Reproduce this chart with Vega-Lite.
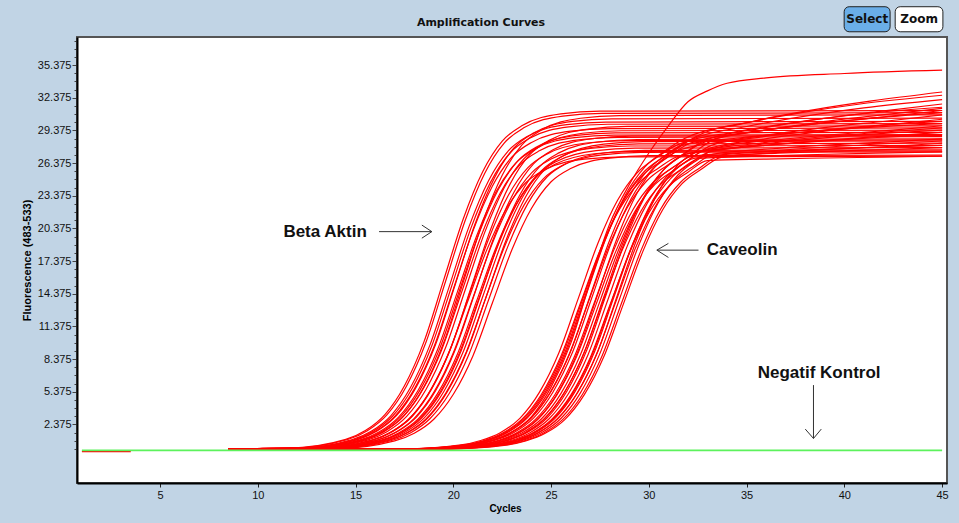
{
"$schema": "https://vega.github.io/schema/vega-lite/v6.json",
"width": 870,
"height": 446,
"autosize": "none",
"padding": {"left": 77, "top": 37, "right": 12, "bottom": 40},
"background": "#C1D4E5",
"config": {"view": {"fill": "#ffffff", "stroke": "#555555", "strokeWidth": 2}},
"title": {"text": "Amplification Curves", "font": "DejaVu Sans", "fontSize": 11, "fontWeight": "bold", "color": "#111111", "anchor": "middle", "frame": "group", "dx": -31, "offset": -33, "baseline": "bottom"},
"datasets": {
"curves": [
{"s":"r0","x":1,"y":-0.12},{"s":"r0","x":3.5,"y":-0.12},
{"s":"b1","x":8.5,"y":0.15},{"s":"b1","x":11.5,"y":0.19},{"s":"b1","x":14.5,"y":1.0},{"s":"b1","x":15.5,"y":1.81},{"s":"b1","x":16.5,"y":3.28},{"s":"b1","x":17.5,"y":5.93},{"s":"b1","x":18.5,"y":9.98},{"s":"b1","x":19.5,"y":15.6},{"s":"b1","x":20.5,"y":21.22},{"s":"b1","x":21.5,"y":25.58},{"s":"b1","x":22.5,"y":28.39},{"s":"b1","x":23.5,"y":29.8},{"s":"b1","x":25.5,"y":30.89},{"s":"b1","x":27.5,"y":31.14},{"s":"b1","x":45,"y":31.2},
{"s":"b2","x":8.5,"y":0.15},{"s":"b2","x":11.6,"y":0.19},{"s":"b2","x":14.6,"y":0.99},{"s":"b2","x":15.6,"y":1.8},{"s":"b2","x":16.6,"y":3.26},{"s":"b2","x":17.6,"y":5.89},{"s":"b2","x":18.6,"y":9.92},{"s":"b2","x":19.6,"y":15.5},{"s":"b2","x":20.6,"y":21.08},{"s":"b2","x":21.6,"y":25.42},{"s":"b2","x":22.6,"y":28.21},{"s":"b2","x":23.6,"y":29.61},{"s":"b2","x":25.6,"y":30.69},{"s":"b2","x":27.6,"y":30.94},{"s":"b2","x":45,"y":31.0},
{"s":"b3","x":8.5,"y":0.15},{"s":"b3","x":11.8,"y":0.18},{"s":"b3","x":14.8,"y":0.97},{"s":"b3","x":15.8,"y":1.75},{"s":"b3","x":16.8,"y":3.17},{"s":"b3","x":17.8,"y":5.74},{"s":"b3","x":18.8,"y":9.66},{"s":"b3","x":19.8,"y":15.1},{"s":"b3","x":20.8,"y":20.54},{"s":"b3","x":21.8,"y":24.76},{"s":"b3","x":22.8,"y":27.48},{"s":"b3","x":23.8,"y":28.84},{"s":"b3","x":25.8,"y":29.9},{"s":"b3","x":27.8,"y":30.14},{"s":"b3","x":45,"y":30.2},
{"s":"b4","x":8.5,"y":0.15},{"s":"b4","x":12,"y":0.18},{"s":"b4","x":15,"y":0.95},{"s":"b4","x":16,"y":1.72},{"s":"b4","x":17,"y":3.11},{"s":"b4","x":18,"y":5.62},{"s":"b4","x":19,"y":9.47},{"s":"b4","x":20,"y":14.8},{"s":"b4","x":21,"y":20.13},{"s":"b4","x":22,"y":24.27},{"s":"b4","x":23,"y":26.94},{"s":"b4","x":24,"y":28.27},{"s":"b4","x":26,"y":29.3},{"s":"b4","x":28,"y":29.54},{"s":"b4","x":45,"y":29.6},
{"s":"b5","x":8.5,"y":0.15},{"s":"b5","x":12.1,"y":0.18},{"s":"b5","x":15.1,"y":0.98},{"s":"b5","x":16.1,"y":1.77},{"s":"b5","x":17.1,"y":3.2},{"s":"b5","x":18.1,"y":5.8},{"s":"b5","x":19.1,"y":9.76},{"s":"b5","x":20.1,"y":15.25},{"s":"b5","x":21.1,"y":20.74},{"s":"b5","x":22.1,"y":25.01},{"s":"b5","x":23.1,"y":27.76},{"s":"b5","x":24.1,"y":29.13},{"s":"b5","x":26.1,"y":30.2},{"s":"b5","x":28.1,"y":30.44},{"s":"b5","x":45,"y":30.5},
{"s":"b6","x":8.5,"y":0.15},{"s":"b6","x":12.3,"y":0.18},{"s":"b6","x":15.3,"y":0.93},{"s":"b6","x":16.3,"y":1.69},{"s":"b6","x":17.3,"y":3.07},{"s":"b6","x":18.3,"y":5.55},{"s":"b6","x":19.3,"y":9.34},{"s":"b6","x":20.3,"y":14.6},{"s":"b6","x":21.3,"y":19.86},{"s":"b6","x":22.3,"y":23.94},{"s":"b6","x":23.3,"y":26.57},{"s":"b6","x":24.3,"y":27.89},{"s":"b6","x":26.3,"y":28.91},{"s":"b6","x":28.3,"y":29.14},{"s":"b6","x":45,"y":29.2},
{"s":"b7","x":8.5,"y":0.15},{"s":"b7","x":12.4,"y":0.17},{"s":"b7","x":15.4,"y":0.92},{"s":"b7","x":16.4,"y":1.67},{"s":"b7","x":17.4,"y":3.02},{"s":"b7","x":18.4,"y":5.47},{"s":"b7","x":19.4,"y":9.22},{"s":"b7","x":20.4,"y":14.4},{"s":"b7","x":21.4,"y":19.58},{"s":"b7","x":22.4,"y":23.62},{"s":"b7","x":23.4,"y":26.21},{"s":"b7","x":24.4,"y":27.5},{"s":"b7","x":26.4,"y":28.51},{"s":"b7","x":28.4,"y":28.74},{"s":"b7","x":45,"y":28.8},
{"s":"b8","x":8.5,"y":0.15},{"s":"b8","x":12.6,"y":0.18},{"s":"b8","x":15.6,"y":0.94},{"s":"b8","x":16.6,"y":1.71},{"s":"b8","x":17.6,"y":3.09},{"s":"b8","x":18.6,"y":5.59},{"s":"b8","x":19.6,"y":9.41},{"s":"b8","x":20.6,"y":14.7},{"s":"b8","x":21.6,"y":19.99},{"s":"b8","x":22.6,"y":24.11},{"s":"b8","x":23.6,"y":26.75},{"s":"b8","x":24.6,"y":28.08},{"s":"b8","x":26.6,"y":29.11},{"s":"b8","x":28.6,"y":29.34},{"s":"b8","x":45,"y":29.4},
{"s":"b9","x":8.5,"y":0.15},{"s":"b9","x":12.8,"y":0.17},{"s":"b9","x":15.8,"y":0.91},{"s":"b9","x":16.8,"y":1.65},{"s":"b9","x":17.8,"y":2.99},{"s":"b9","x":18.8,"y":5.42},{"s":"b9","x":19.8,"y":9.12},{"s":"b9","x":20.8,"y":14.25},{"s":"b9","x":21.8,"y":19.38},{"s":"b9","x":22.8,"y":23.37},{"s":"b9","x":23.8,"y":25.94},{"s":"b9","x":24.8,"y":27.22},{"s":"b9","x":26.8,"y":28.22},{"s":"b9","x":28.8,"y":28.44},{"s":"b9","x":45,"y":28.5},
{"s":"b10","x":8.5,"y":0.15},{"s":"b10","x":13,"y":0.17},{"s":"b10","x":16,"y":0.9},{"s":"b10","x":17,"y":1.62},{"s":"b10","x":18,"y":2.94},{"s":"b10","x":19,"y":5.32},{"s":"b10","x":20,"y":8.96},{"s":"b10","x":21,"y":14.0},{"s":"b10","x":22,"y":19.04},{"s":"b10","x":23,"y":22.96},{"s":"b10","x":24,"y":25.48},{"s":"b10","x":25,"y":26.74},{"s":"b10","x":27,"y":27.72},{"s":"b10","x":29,"y":27.94},{"s":"b10","x":45,"y":28.0},
{"s":"b11","x":8.5,"y":0.15},{"s":"b11","x":13.1,"y":0.17},{"s":"b11","x":16.1,"y":0.92},{"s":"b11","x":17.1,"y":1.68},{"s":"b11","x":18.1,"y":3.03},{"s":"b11","x":19.1,"y":5.49},{"s":"b11","x":20.1,"y":9.25},{"s":"b11","x":21.1,"y":14.45},{"s":"b11","x":22.1,"y":19.65},{"s":"b11","x":23.1,"y":23.7},{"s":"b11","x":24.1,"y":26.3},{"s":"b11","x":25.1,"y":27.6},{"s":"b11","x":27.1,"y":28.61},{"s":"b11","x":29.1,"y":28.84},{"s":"b11","x":45,"y":28.9},
{"s":"b12","x":8.5,"y":0.15},{"s":"b12","x":13.3,"y":0.17},{"s":"b12","x":16.3,"y":0.89},{"s":"b12","x":17.3,"y":1.61},{"s":"b12","x":18.3,"y":2.92},{"s":"b12","x":19.3,"y":5.28},{"s":"b12","x":20.3,"y":8.9},{"s":"b12","x":21.3,"y":13.9},{"s":"b12","x":22.3,"y":18.9},{"s":"b12","x":23.3,"y":22.8},{"s":"b12","x":24.3,"y":25.3},{"s":"b12","x":25.3,"y":26.55},{"s":"b12","x":27.3,"y":27.52},{"s":"b12","x":29.3,"y":27.74},{"s":"b12","x":45,"y":27.8},
{"s":"b13","x":8.5,"y":0.15},{"s":"b13","x":13.5,"y":0.17},{"s":"b13","x":16.5,"y":0.9},{"s":"b13","x":17.5,"y":1.64},{"s":"b13","x":18.5,"y":2.96},{"s":"b13","x":19.5,"y":5.36},{"s":"b13","x":20.5,"y":9.02},{"s":"b13","x":21.5,"y":14.1},{"s":"b13","x":22.5,"y":19.18},{"s":"b13","x":23.5,"y":23.12},{"s":"b13","x":24.5,"y":25.66},{"s":"b13","x":25.5,"y":26.93},{"s":"b13","x":27.5,"y":27.92},{"s":"b13","x":29.5,"y":28.14},{"s":"b13","x":45,"y":28.2},
{"s":"b14","x":8.5,"y":0.15},{"s":"b14","x":13.6,"y":0.16},{"s":"b14","x":16.6,"y":0.88},{"s":"b14","x":17.6,"y":1.59},{"s":"b14","x":18.6,"y":2.88},{"s":"b14","x":19.6,"y":5.21},{"s":"b14","x":20.6,"y":8.77},{"s":"b14","x":21.6,"y":13.7},{"s":"b14","x":22.6,"y":18.63},{"s":"b14","x":23.6,"y":22.47},{"s":"b14","x":24.6,"y":24.93},{"s":"b14","x":25.6,"y":26.17},{"s":"b14","x":27.6,"y":27.13},{"s":"b14","x":29.6,"y":27.35},{"s":"b14","x":45,"y":27.4},
{"s":"b15","x":8.5,"y":0.15},{"s":"b15","x":13.8,"y":0.17},{"s":"b15","x":16.8,"y":0.88},{"s":"b15","x":17.8,"y":1.6},{"s":"b15","x":18.8,"y":2.9},{"s":"b15","x":19.8,"y":5.24},{"s":"b15","x":20.8,"y":8.83},{"s":"b15","x":21.8,"y":13.8},{"s":"b15","x":22.8,"y":18.77},{"s":"b15","x":23.8,"y":22.63},{"s":"b15","x":24.8,"y":25.12},{"s":"b15","x":25.8,"y":26.36},{"s":"b15","x":27.8,"y":27.32},{"s":"b15","x":29.8,"y":27.54},{"s":"b15","x":45,"y":27.6},
{"s":"b16","x":8.5,"y":0.15},{"s":"b16","x":14,"y":0.16},{"s":"b16","x":17,"y":0.87},{"s":"b16","x":18,"y":1.57},{"s":"b16","x":19,"y":2.85},{"s":"b16","x":20,"y":5.15},{"s":"b16","x":21,"y":8.67},{"s":"b16","x":22,"y":13.55},{"s":"b16","x":23,"y":18.43},{"s":"b16","x":24,"y":22.22},{"s":"b16","x":25,"y":24.66},{"s":"b16","x":26,"y":25.88},{"s":"b16","x":28,"y":26.83},{"s":"b16","x":30,"y":27.05},{"s":"b16","x":45,"y":27.1},
{"s":"b17","x":8.5,"y":0.15},{"s":"b17","x":11.9,"y":0.18},{"s":"b17","x":14.9,"y":0.96},{"s":"b17","x":15.9,"y":1.74},{"s":"b17","x":16.9,"y":3.15},{"s":"b17","x":17.9,"y":5.7},{"s":"b17","x":18.9,"y":9.6},{"s":"b17","x":19.9,"y":15.0},{"s":"b17","x":20.9,"y":20.4},{"s":"b17","x":21.9,"y":24.6},{"s":"b17","x":22.9,"y":27.3},{"s":"b17","x":23.9,"y":28.65},{"s":"b17","x":25.9,"y":29.7},{"s":"b17","x":27.9,"y":29.94},{"s":"b17","x":45,"y":30.0},
{"s":"b18","x":8.5,"y":0.15},{"s":"b18","x":12.2,"y":0.17},{"s":"b18","x":15.2,"y":0.93},{"s":"b18","x":16.2,"y":1.68},{"s":"b18","x":17.2,"y":3.05},{"s":"b18","x":18.2,"y":5.51},{"s":"b18","x":19.2,"y":9.28},{"s":"b18","x":20.2,"y":14.5},{"s":"b18","x":21.2,"y":19.72},{"s":"b18","x":22.2,"y":23.78},{"s":"b18","x":23.2,"y":26.39},{"s":"b18","x":24.2,"y":27.7},{"s":"b18","x":26.2,"y":28.71},{"s":"b18","x":28.2,"y":28.94},{"s":"b18","x":45,"y":29.0},
{"s":"b19","x":8.5,"y":0.15},{"s":"b19","x":12.5,"y":0.18},{"s":"b19","x":15.5,"y":0.99},{"s":"b19","x":16.5,"y":1.79},{"s":"b19","x":17.5,"y":3.23},{"s":"b19","x":18.5,"y":5.85},{"s":"b19","x":19.5,"y":9.86},{"s":"b19","x":20.5,"y":15.4},{"s":"b19","x":21.5,"y":20.94},{"s":"b19","x":22.5,"y":25.26},{"s":"b19","x":23.5,"y":28.03},{"s":"b19","x":24.5,"y":29.41},{"s":"b19","x":26.5,"y":30.49},{"s":"b19","x":28.5,"y":30.74},{"s":"b19","x":45,"y":30.8},
{"s":"b20","x":8.5,"y":0.15},{"s":"b20","x":12.7,"y":0.16},{"s":"b20","x":15.7,"y":0.86},{"s":"b20","x":16.7,"y":1.57},{"s":"b20","x":17.7,"y":2.84},{"s":"b20","x":18.7,"y":5.13},{"s":"b20","x":19.7,"y":8.64},{"s":"b20","x":20.7,"y":13.5},{"s":"b20","x":21.7,"y":18.36},{"s":"b20","x":22.7,"y":22.14},{"s":"b20","x":23.7,"y":24.57},{"s":"b20","x":24.7,"y":25.79},{"s":"b20","x":26.7,"y":26.73},{"s":"b20","x":28.7,"y":26.95},{"s":"b20","x":45,"y":27.0},
{"s":"b21","x":8.5,"y":0.15},{"s":"b21","x":12.9,"y":0.18},{"s":"b21","x":15.9,"y":0.95},{"s":"b21","x":16.9,"y":1.73},{"s":"b21","x":17.9,"y":3.13},{"s":"b21","x":18.9,"y":5.66},{"s":"b21","x":19.9,"y":9.54},{"s":"b21","x":20.9,"y":14.9},{"s":"b21","x":21.9,"y":20.26},{"s":"b21","x":22.9,"y":24.44},{"s":"b21","x":23.9,"y":27.12},{"s":"b21","x":24.9,"y":28.46},{"s":"b21","x":26.9,"y":29.5},{"s":"b21","x":28.9,"y":29.74},{"s":"b21","x":45,"y":29.8},
{"s":"b22","x":8.5,"y":0.15},{"s":"b22","x":13.2,"y":0.17},{"s":"b22","x":16.2,"y":0.88},{"s":"b22","x":17.2,"y":1.6},{"s":"b22","x":18.2,"y":2.89},{"s":"b22","x":19.2,"y":5.23},{"s":"b22","x":20.2,"y":8.8},{"s":"b22","x":21.2,"y":13.75},{"s":"b22","x":22.2,"y":18.7},{"s":"b22","x":23.2,"y":22.55},{"s":"b22","x":24.2,"y":25.03},{"s":"b22","x":25.2,"y":26.26},{"s":"b22","x":27.2,"y":27.23},{"s":"b22","x":29.2,"y":27.45},{"s":"b22","x":45,"y":27.5},
{"s":"b23","x":8.5,"y":0.15},{"s":"b23","x":13.4,"y":0.17},{"s":"b23","x":16.4,"y":0.92},{"s":"b23","x":17.4,"y":1.66},{"s":"b23","x":18.4,"y":3.0},{"s":"b23","x":19.4,"y":5.43},{"s":"b23","x":20.4,"y":9.15},{"s":"b23","x":21.4,"y":14.3},{"s":"b23","x":22.4,"y":19.45},{"s":"b23","x":23.4,"y":23.45},{"s":"b23","x":24.4,"y":26.03},{"s":"b23","x":25.4,"y":27.31},{"s":"b23","x":27.4,"y":28.31},{"s":"b23","x":29.4,"y":28.54},{"s":"b23","x":45,"y":28.6},
{"s":"b24","x":8.5,"y":0.15},{"s":"b24","x":13.7,"y":0.17},{"s":"b24","x":16.7,"y":0.91},{"s":"b24","x":17.7,"y":1.65},{"s":"b24","x":18.7,"y":2.98},{"s":"b24","x":19.7,"y":5.4},{"s":"b24","x":20.7,"y":9.09},{"s":"b24","x":21.7,"y":14.2},{"s":"b24","x":22.7,"y":19.31},{"s":"b24","x":23.7,"y":23.29},{"s":"b24","x":24.7,"y":25.84},{"s":"b24","x":25.7,"y":27.12},{"s":"b24","x":27.7,"y":28.12},{"s":"b24","x":29.7,"y":28.34},{"s":"b24","x":45,"y":28.4},
{"s":"v1","x":8.5,"y":0.12},{"s":"v1","x":17.4,"y":0.14},{"s":"v1","x":20.4,"y":0.5},{"s":"v1","x":21.4,"y":0.9},{"s":"v1","x":22.4,"y":1.62},{"s":"v1","x":23.4,"y":2.94},{"s":"v1","x":24.4,"y":5.32},{"s":"v1","x":25.4,"y":8.96},{"s":"v1","x":26.4,"y":14.0},{"s":"v1","x":27.4,"y":19.04},{"s":"v1","x":28.4,"y":22.96},{"s":"v1","x":29.4,"y":25.48},{"s":"v1","x":30.4,"y":26.88},{"s":"v1","x":31.4,"y":28.0},{"s":"v1","x":34.4,"y":29.23},{"s":"v1","x":37.4,"y":30.1},{"s":"v1","x":40.4,"y":30.8},{"s":"v1","x":45,"y":31.5},
{"s":"v2","x":8.5,"y":0.12},{"s":"v2","x":17.6,"y":0.14},{"s":"v2","x":20.6,"y":0.5},{"s":"v2","x":21.6,"y":0.88},{"s":"v2","x":22.6,"y":1.6},{"s":"v2","x":23.6,"y":2.9},{"s":"v2","x":24.6,"y":5.24},{"s":"v2","x":25.6,"y":8.83},{"s":"v2","x":26.6,"y":13.8},{"s":"v2","x":27.6,"y":18.77},{"s":"v2","x":28.6,"y":22.63},{"s":"v2","x":29.6,"y":25.12},{"s":"v2","x":30.6,"y":26.5},{"s":"v2","x":31.6,"y":27.6},{"s":"v2","x":34.6,"y":28.51},{"s":"v2","x":37.6,"y":29.16},{"s":"v2","x":40.6,"y":29.68},{"s":"v2","x":45,"y":30.2},
{"s":"v3","x":8.5,"y":0.12},{"s":"v3","x":17.8,"y":0.14},{"s":"v3","x":20.8,"y":0.51},{"s":"v3","x":21.8,"y":0.92},{"s":"v3","x":22.8,"y":1.66},{"s":"v3","x":23.8,"y":3.0},{"s":"v3","x":24.8,"y":5.43},{"s":"v3","x":25.8,"y":9.15},{"s":"v3","x":26.8,"y":14.3},{"s":"v3","x":27.8,"y":19.45},{"s":"v3","x":28.8,"y":23.45},{"s":"v3","x":29.8,"y":26.03},{"s":"v3","x":30.8,"y":27.46},{"s":"v3","x":31.8,"y":28.6},{"s":"v3","x":34.8,"y":30.0},{"s":"v3","x":37.8,"y":31.0},{"s":"v3","x":40.8,"y":31.8},{"s":"v3","x":45,"y":32.6},
{"s":"v4","x":8.5,"y":0.12},{"s":"v4","x":17.9,"y":0.14},{"s":"v4","x":20.9,"y":0.49},{"s":"v4","x":21.9,"y":0.87},{"s":"v4","x":22.9,"y":1.58},{"s":"v4","x":23.9,"y":2.86},{"s":"v4","x":24.9,"y":5.17},{"s":"v4","x":25.9,"y":8.7},{"s":"v4","x":26.9,"y":13.6},{"s":"v4","x":27.9,"y":18.5},{"s":"v4","x":28.9,"y":22.3},{"s":"v4","x":29.9,"y":24.75},{"s":"v4","x":30.9,"y":26.11},{"s":"v4","x":31.9,"y":27.2},{"s":"v4","x":34.9,"y":27.83},{"s":"v4","x":37.9,"y":28.28},{"s":"v4","x":40.9,"y":28.64},{"s":"v4","x":45,"y":29.0},
{"s":"v5","x":8.5,"y":0.12},{"s":"v5","x":18.1,"y":0.14},{"s":"v5","x":21.1,"y":0.51},{"s":"v5","x":22.1,"y":0.9},{"s":"v5","x":23.1,"y":1.64},{"s":"v5","x":24.1,"y":2.96},{"s":"v5","x":25.1,"y":5.36},{"s":"v5","x":26.1,"y":9.02},{"s":"v5","x":27.1,"y":14.1},{"s":"v5","x":28.1,"y":19.18},{"s":"v5","x":29.1,"y":23.12},{"s":"v5","x":30.1,"y":25.66},{"s":"v5","x":31.1,"y":27.07},{"s":"v5","x":32.1,"y":28.2},{"s":"v5","x":35.1,"y":29.18},{"s":"v5","x":38.1,"y":29.88},{"s":"v5","x":41.1,"y":30.44},{"s":"v5","x":45,"y":31.0},
{"s":"v6","x":8.5,"y":0.12},{"s":"v6","x":18.2,"y":0.14},{"s":"v6","x":21.2,"y":0.49},{"s":"v6","x":22.2,"y":0.86},{"s":"v6","x":23.2,"y":1.57},{"s":"v6","x":24.2,"y":2.84},{"s":"v6","x":25.2,"y":5.13},{"s":"v6","x":26.2,"y":8.64},{"s":"v6","x":27.2,"y":13.5},{"s":"v6","x":28.2,"y":18.36},{"s":"v6","x":29.2,"y":22.14},{"s":"v6","x":30.2,"y":24.57},{"s":"v6","x":31.2,"y":25.92},{"s":"v6","x":32.2,"y":27.0},{"s":"v6","x":35.2,"y":27.35},{"s":"v6","x":38.2,"y":27.6},{"s":"v6","x":41.2,"y":27.8},{"s":"v6","x":45,"y":28.0},
{"s":"v7","x":8.5,"y":0.12},{"s":"v7","x":18.4,"y":0.14},{"s":"v7","x":21.4,"y":0.52},{"s":"v7","x":22.4,"y":0.92},{"s":"v7","x":23.4,"y":1.67},{"s":"v7","x":24.4,"y":3.02},{"s":"v7","x":25.4,"y":5.47},{"s":"v7","x":26.4,"y":9.22},{"s":"v7","x":27.4,"y":14.4},{"s":"v7","x":28.4,"y":19.58},{"s":"v7","x":29.4,"y":23.62},{"s":"v7","x":30.4,"y":26.21},{"s":"v7","x":31.4,"y":27.65},{"s":"v7","x":32.4,"y":28.8},{"s":"v7","x":35.4,"y":30.24},{"s":"v7","x":38.4,"y":31.26},{"s":"v7","x":41.4,"y":32.08},{"s":"v7","x":45,"y":32.9},
{"s":"v8","x":8.5,"y":0.12},{"s":"v8","x":18.5,"y":0.14},{"s":"v8","x":21.5,"y":0.49},{"s":"v8","x":22.5,"y":0.88},{"s":"v8","x":23.5,"y":1.59},{"s":"v8","x":24.5,"y":2.88},{"s":"v8","x":25.5,"y":5.21},{"s":"v8","x":26.5,"y":8.77},{"s":"v8","x":27.5,"y":13.7},{"s":"v8","x":28.5,"y":18.63},{"s":"v8","x":29.5,"y":22.47},{"s":"v8","x":30.5,"y":24.93},{"s":"v8","x":31.5,"y":26.3},{"s":"v8","x":32.5,"y":27.4},{"s":"v8","x":35.5,"y":28.17},{"s":"v8","x":38.5,"y":28.72},{"s":"v8","x":41.5,"y":29.16},{"s":"v8","x":45,"y":29.6},
{"s":"v9","x":8.5,"y":0.12},{"s":"v9","x":18.6,"y":0.13},{"s":"v9","x":21.6,"y":0.48},{"s":"v9","x":22.6,"y":0.86},{"s":"v9","x":23.6,"y":1.55},{"s":"v9","x":24.6,"y":2.81},{"s":"v9","x":25.6,"y":5.09},{"s":"v9","x":26.6,"y":8.58},{"s":"v9","x":27.6,"y":13.4},{"s":"v9","x":28.6,"y":18.22},{"s":"v9","x":29.6,"y":21.98},{"s":"v9","x":30.6,"y":24.39},{"s":"v9","x":31.6,"y":25.73},{"s":"v9","x":32.6,"y":26.8},{"s":"v9","x":35.6,"y":27.01},{"s":"v9","x":38.6,"y":27.16},{"s":"v9","x":41.6,"y":27.28},{"s":"v9","x":45,"y":27.4},
{"s":"v10","x":8.5,"y":0.12},{"s":"v10","x":18.8,"y":0.14},{"s":"v10","x":21.8,"y":0.51},{"s":"v10","x":22.8,"y":0.91},{"s":"v10","x":23.8,"y":1.65},{"s":"v10","x":24.8,"y":2.98},{"s":"v10","x":25.8,"y":5.4},{"s":"v10","x":26.8,"y":9.09},{"s":"v10","x":27.8,"y":14.2},{"s":"v10","x":28.8,"y":19.31},{"s":"v10","x":29.8,"y":23.29},{"s":"v10","x":30.8,"y":25.84},{"s":"v10","x":31.8,"y":27.26},{"s":"v10","x":32.8,"y":28.4},{"s":"v10","x":35.8,"y":29.59},{"s":"v10","x":38.8,"y":30.44},{"s":"v10","x":41.8,"y":31.12},{"s":"v10","x":45,"y":31.8},
{"s":"v11","x":8.5,"y":0.12},{"s":"v11","x":18.9,"y":0.14},{"s":"v11","x":21.9,"y":0.5},{"s":"v11","x":22.9,"y":0.88},{"s":"v11","x":23.9,"y":1.6},{"s":"v11","x":24.9,"y":2.9},{"s":"v11","x":25.9,"y":5.24},{"s":"v11","x":26.9,"y":8.83},{"s":"v11","x":27.9,"y":13.8},{"s":"v11","x":28.9,"y":18.77},{"s":"v11","x":29.9,"y":22.63},{"s":"v11","x":30.9,"y":25.12},{"s":"v11","x":31.9,"y":26.5},{"s":"v11","x":32.9,"y":27.6},{"s":"v11","x":35.9,"y":28.58},{"s":"v11","x":38.9,"y":29.28},{"s":"v11","x":41.9,"y":29.84},{"s":"v11","x":45,"y":30.4},
{"s":"v12","x":8.5,"y":0.12},{"s":"v12","x":19,"y":0.13},{"s":"v12","x":22,"y":0.48},{"s":"v12","x":23,"y":0.85},{"s":"v12","x":24,"y":1.54},{"s":"v12","x":25,"y":2.79},{"s":"v12","x":26,"y":5.05},{"s":"v12","x":27,"y":8.51},{"s":"v12","x":28,"y":13.3},{"s":"v12","x":29,"y":18.09},{"s":"v12","x":30,"y":21.81},{"s":"v12","x":31,"y":24.21},{"s":"v12","x":32,"y":25.54},{"s":"v12","x":33,"y":26.6},{"s":"v12","x":36,"y":26.74},{"s":"v12","x":39,"y":26.84},{"s":"v12","x":42,"y":26.92},{"s":"v12","x":45,"y":27.0},
{"s":"v13","x":8.5,"y":0.12},{"s":"v13","x":19.2,"y":0.14},{"s":"v13","x":22.2,"y":0.5},{"s":"v13","x":23.2,"y":0.9},{"s":"v13","x":24.2,"y":1.62},{"s":"v13","x":25.2,"y":2.94},{"s":"v13","x":26.2,"y":5.32},{"s":"v13","x":27.2,"y":8.96},{"s":"v13","x":28.2,"y":14.0},{"s":"v13","x":29.2,"y":19.04},{"s":"v13","x":30.2,"y":22.96},{"s":"v13","x":31.2,"y":25.48},{"s":"v13","x":32.2,"y":26.88},{"s":"v13","x":33.2,"y":28.0},{"s":"v13","x":36.2,"y":28.98},{"s":"v13","x":39.2,"y":29.68},{"s":"v13","x":42.2,"y":30.24},{"s":"v13","x":45,"y":30.8},
{"s":"v14","x":8.5,"y":0.12},{"s":"v14","x":19.3,"y":0.14},{"s":"v14","x":22.3,"y":0.49},{"s":"v14","x":23.3,"y":0.87},{"s":"v14","x":24.3,"y":1.58},{"s":"v14","x":25.3,"y":2.86},{"s":"v14","x":26.3,"y":5.17},{"s":"v14","x":27.3,"y":8.7},{"s":"v14","x":28.3,"y":13.6},{"s":"v14","x":29.3,"y":18.5},{"s":"v14","x":30.3,"y":22.3},{"s":"v14","x":31.3,"y":24.75},{"s":"v14","x":32.3,"y":26.11},{"s":"v14","x":33.3,"y":27.2},{"s":"v14","x":36.3,"y":27.69},{"s":"v14","x":39.3,"y":28.04},{"s":"v14","x":42.3,"y":28.32},{"s":"v14","x":45,"y":28.6},
{"s":"v15","x":8.5,"y":0.12},{"s":"v15","x":19.5,"y":0.14},{"s":"v15","x":22.5,"y":0.5},{"s":"v15","x":23.5,"y":0.89},{"s":"v15","x":24.5,"y":1.61},{"s":"v15","x":25.5,"y":2.92},{"s":"v15","x":26.5,"y":5.28},{"s":"v15","x":27.5,"y":8.9},{"s":"v15","x":28.5,"y":13.9},{"s":"v15","x":29.5,"y":18.9},{"s":"v15","x":30.5,"y":22.8},{"s":"v15","x":31.5,"y":25.3},{"s":"v15","x":32.5,"y":26.69},{"s":"v15","x":33.5,"y":27.8},{"s":"v15","x":36.5,"y":28.5},{"s":"v15","x":39.5,"y":29.0},{"s":"v15","x":42.5,"y":29.4},{"s":"v15","x":45,"y":29.8},
{"s":"v16","x":8.5,"y":0.12},{"s":"v16","x":19.7,"y":0.13},{"s":"v16","x":22.7,"y":0.48},{"s":"v16","x":23.7,"y":0.86},{"s":"v16","x":24.7,"y":1.56},{"s":"v16","x":25.7,"y":2.82},{"s":"v16","x":26.7,"y":5.11},{"s":"v16","x":27.7,"y":8.61},{"s":"v16","x":28.7,"y":13.45},{"s":"v16","x":29.7,"y":18.29},{"s":"v16","x":30.7,"y":22.06},{"s":"v16","x":31.7,"y":24.48},{"s":"v16","x":32.7,"y":25.82},{"s":"v16","x":33.7,"y":26.9},{"s":"v16","x":36.7,"y":27.36},{"s":"v16","x":39.7,"y":27.68},{"s":"v16","x":42.7,"y":27.94},{"s":"v16","x":45,"y":28.2},
{"s":"v17","x":8.5,"y":0.12},{"s":"v17","x":17.5,"y":0.14},{"s":"v17","x":20.5,"y":0.49},{"s":"v17","x":21.5,"y":0.86},{"s":"v17","x":22.5,"y":1.57},{"s":"v17","x":23.5,"y":2.84},{"s":"v17","x":24.5,"y":5.13},{"s":"v17","x":25.5,"y":8.64},{"s":"v17","x":26.5,"y":13.5},{"s":"v17","x":27.5,"y":18.36},{"s":"v17","x":28.5,"y":22.14},{"s":"v17","x":29.5,"y":24.57},{"s":"v17","x":30.5,"y":25.92},{"s":"v17","x":31.5,"y":27.0},{"s":"v17","x":34.5,"y":27.84},{"s":"v17","x":37.5,"y":28.44},{"s":"v17","x":40.5,"y":28.92},{"s":"v17","x":45,"y":29.4},
{"s":"v18","x":8.5,"y":0.12},{"s":"v18","x":17.7,"y":0.14},{"s":"v18","x":20.7,"y":0.5},{"s":"v18","x":21.7,"y":0.9},{"s":"v18","x":22.7,"y":1.62},{"s":"v18","x":23.7,"y":2.94},{"s":"v18","x":24.7,"y":5.32},{"s":"v18","x":25.7,"y":8.96},{"s":"v18","x":26.7,"y":14.0},{"s":"v18","x":27.7,"y":19.04},{"s":"v18","x":28.7,"y":22.96},{"s":"v18","x":29.7,"y":25.48},{"s":"v18","x":30.7,"y":26.88},{"s":"v18","x":31.7,"y":28.0},{"s":"v18","x":34.7,"y":28.7},{"s":"v18","x":37.7,"y":29.2},{"s":"v18","x":40.7,"y":29.6},{"s":"v18","x":45,"y":30.0},
{"s":"v19","x":8.5,"y":0.12},{"s":"v19","x":18,"y":0.14},{"s":"v19","x":21,"y":0.51},{"s":"v19","x":22,"y":0.91},{"s":"v19","x":23,"y":1.65},{"s":"v19","x":24,"y":2.98},{"s":"v19","x":25,"y":5.4},{"s":"v19","x":26,"y":9.09},{"s":"v19","x":27,"y":14.2},{"s":"v19","x":28,"y":19.31},{"s":"v19","x":29,"y":23.29},{"s":"v19","x":30,"y":25.84},{"s":"v19","x":31,"y":27.26},{"s":"v19","x":32,"y":28.4},{"s":"v19","x":35,"y":29.73},{"s":"v19","x":38,"y":30.68},{"s":"v19","x":41,"y":31.44},{"s":"v19","x":45,"y":32.2},
{"s":"v20","x":8.5,"y":0.12},{"s":"v20","x":18.3,"y":0.13},{"s":"v20","x":21.3,"y":0.48},{"s":"v20","x":22.3,"y":0.86},{"s":"v20","x":23.3,"y":1.55},{"s":"v20","x":24.3,"y":2.81},{"s":"v20","x":25.3,"y":5.09},{"s":"v20","x":26.3,"y":8.58},{"s":"v20","x":27.3,"y":13.4},{"s":"v20","x":28.3,"y":18.22},{"s":"v20","x":29.3,"y":21.98},{"s":"v20","x":30.3,"y":24.39},{"s":"v20","x":31.3,"y":25.73},{"s":"v20","x":32.3,"y":26.8},{"s":"v20","x":35.3,"y":27.36},{"s":"v20","x":38.3,"y":27.76},{"s":"v20","x":41.3,"y":28.08},{"s":"v20","x":45,"y":28.4},
{"s":"v21","x":8.5,"y":0.12},{"s":"v21","x":18.7,"y":0.14},{"s":"v21","x":21.7,"y":0.51},{"s":"v21","x":22.7,"y":0.9},{"s":"v21","x":23.7,"y":1.64},{"s":"v21","x":24.7,"y":2.96},{"s":"v21","x":25.7,"y":5.36},{"s":"v21","x":26.7,"y":9.02},{"s":"v21","x":27.7,"y":14.1},{"s":"v21","x":28.7,"y":19.18},{"s":"v21","x":29.7,"y":23.12},{"s":"v21","x":30.7,"y":25.66},{"s":"v21","x":31.7,"y":27.07},{"s":"v21","x":32.7,"y":28.2},{"s":"v21","x":35.7,"y":29.32},{"s":"v21","x":38.7,"y":30.12},{"s":"v21","x":41.7,"y":30.76},{"s":"v21","x":45,"y":31.4},
{"s":"v22","x":8.5,"y":0.12},{"s":"v22","x":19.1,"y":0.14},{"s":"v22","x":22.1,"y":0.49},{"s":"v22","x":23.1,"y":0.88},{"s":"v22","x":24.1,"y":1.59},{"s":"v22","x":25.1,"y":2.88},{"s":"v22","x":26.1,"y":5.21},{"s":"v22","x":27.1,"y":8.77},{"s":"v22","x":28.1,"y":13.7},{"s":"v22","x":29.1,"y":18.63},{"s":"v22","x":30.1,"y":22.47},{"s":"v22","x":31.1,"y":24.93},{"s":"v22","x":32.1,"y":26.3},{"s":"v22","x":33.1,"y":27.4},{"s":"v22","x":36.1,"y":28.03},{"s":"v22","x":39.1,"y":28.48},{"s":"v22","x":42.1,"y":28.84},{"s":"v22","x":45,"y":29.2},
{"s":"v23","x":8.5,"y":0.12},{"s":"v23","x":19.4,"y":0.14},{"s":"v23","x":22.4,"y":0.51},{"s":"v23","x":23.4,"y":0.92},{"s":"v23","x":24.4,"y":1.66},{"s":"v23","x":25.4,"y":3.0},{"s":"v23","x":26.4,"y":5.43},{"s":"v23","x":27.4,"y":9.15},{"s":"v23","x":28.4,"y":14.3},{"s":"v23","x":29.4,"y":19.45},{"s":"v23","x":30.4,"y":23.45},{"s":"v23","x":31.4,"y":26.03},{"s":"v23","x":32.4,"y":27.46},{"s":"v23","x":33.4,"y":28.6},{"s":"v23","x":36.4,"y":29.51},{"s":"v23","x":39.4,"y":30.16},{"s":"v23","x":42.4,"y":30.68},{"s":"v23","x":45,"y":31.2},
{"s":"v24","x":8.5,"y":0.12},{"s":"v24","x":19.6,"y":0.14},{"s":"v24","x":22.6,"y":0.49},{"s":"v24","x":23.6,"y":0.86},{"s":"v24","x":24.6,"y":1.57},{"s":"v24","x":25.6,"y":2.84},{"s":"v24","x":26.6,"y":5.13},{"s":"v24","x":27.6,"y":8.64},{"s":"v24","x":28.6,"y":13.5},{"s":"v24","x":29.6,"y":18.36},{"s":"v24","x":30.6,"y":22.14},{"s":"v24","x":31.6,"y":24.57},{"s":"v24","x":32.6,"y":25.92},{"s":"v24","x":33.6,"y":27.0},{"s":"v24","x":36.6,"y":27.28},{"s":"v24","x":39.6,"y":27.48},{"s":"v24","x":42.6,"y":27.64},{"s":"v24","x":45,"y":27.8},
{"s":"o1","x":8.5,"y":0.12},{"s":"o1","x":18,"y":0.14},{"s":"o1","x":21,"y":0.5},{"s":"o1","x":22,"y":0.9},{"s":"o1","x":23,"y":1.7},{"s":"o1","x":24,"y":3.1},{"s":"o1","x":25,"y":5.8},{"s":"o1","x":26,"y":9.8},{"s":"o1","x":27,"y":15.5},{"s":"o1","x":28,"y":20.8},{"s":"o1","x":29,"y":24.4},{"s":"o1","x":30,"y":27.3},{"s":"o1","x":31,"y":29.8},{"s":"o1","x":32,"y":32.0},{"s":"o1","x":33,"y":33.0},{"s":"o1","x":34,"y":33.7},{"s":"o1","x":36,"y":34.2},{"s":"o1","x":40,"y":34.6},{"s":"o1","x":45,"y":34.9}
],
"neg": [{"x":1,"y":0},{"x":45,"y":0}],
"notes": [
{"t":"Beta Aktin","x":13.44,"y":20.08},
{"t":"Caveolin","x":34.77,"y":18.38},
{"t":"Negatif Kontrol","x":38.71,"y":7.06}
],
"arrows": [
{"x":16.2,"y":20.08,"x2":18.9,"y2":20.08},
{"x":18.39,"y":20.68,"x2":18.9,"y2":20.08},
{"x":18.39,"y":19.48,"x2":18.9,"y2":20.08},
{"x":30.41,"y":18.38,"x2":32.54,"y2":18.38},
{"x":31.0,"y":19.0,"x2":30.41,"y2":18.38},
{"x":31.0,"y":17.71,"x2":30.41,"y2":18.38},
{"x":38.42,"y":5.99,"x2":38.42,"y2":1.09},
{"x":38.0,"y":1.95,"x2":38.42,"y2":1.09},
{"x":38.82,"y":1.95,"x2":38.42,"y2":1.09}
],
"buttons": [
{"b":"Select","x":39.99,"x2":42.34,"y":38.43,"y2":40.73},
{"b":"Zoom","x":42.6,"x2":45.04,"y":38.43,"y2":40.73}
],
"buttonlabels": [
{"b":"Select","x":41.17,"y":39.58},
{"b":"Zoom","x":43.82,"y":39.58}
]
},
"encoding": {
"x": {"field": "x", "type": "quantitative", "scale": {"domain": [0.75, 45.25], "nice": false, "zero": false},
 "axis": {"title": "Cycles", "titleFont": "Liberation Sans", "titleFontSize": 10, "titleFontWeight": "bold", "titleColor": "#000000", "titlePadding": 3, "titleX": 428,
  "values": [5,10,15,20,25,30,35,40,45], "format": "d", "labelFont": "Liberation Sans", "labelFontSize": 11, "labelColor": "#111111", "labelPadding": 2, "labelFlush": false, "labelOverlap": false,
  "tickColor": "#222222", "tickSize": 4, "domainColor": "#000000", "domainWidth": 2, "grid": false}},
"y": {"field": "y", "type": "quantitative", "scale": {"domain": [-3, 37.95], "nice": false, "zero": false},
 "axis": {"title": "Fluorescence (483-533)", "titleFont": "Liberation Sans", "titleFontSize": 11, "titleFontWeight": "bold", "titleColor": "#000000", "titlePadding": 5,
  "values": [0.125,0.875,1.625,2.375,3.125,3.875,4.625,5.375,6.125,6.875,7.625,8.375,9.125,9.875,10.625,11.375,12.125,12.875,13.625,14.375,15.125,15.875,16.625,17.375,18.125,18.875,19.625,20.375,21.125,21.875,22.625,23.375,24.125,24.875,25.625,26.375,27.125,27.875,28.625,29.375,30.125,30.875,31.625,32.375,33.125,33.875,34.625,35.375,36.125,36.875,37.625],
  "labelExpr": "abs((datum.value - 2.375) % 3) < 0.01 ? format(datum.value, '.3f') : ''",
  "labelFont": "Liberation Sans", "labelFontSize": 11, "labelColor": "#111111", "labelPadding": 1, "labelFlush": false, "labelOverlap": false,
  "tickColor": "#444444", "tickSize": {"condition": {"test": "abs((datum.value - 2.375) % 3) < 0.01", "value": 5}, "value": 3},
  "domainColor": "#000000", "domainWidth": 2, "grid": false}}
},
"layer": [
{
"data": {"name": "curves"},
"mark": {"type": "line", "color": "#ff0000", "strokeWidth": 1.2, "interpolate": "monotone"},
"encoding": {"detail": {"field": "s", "type": "nominal"}}
},
{
"data": {"name": "neg"},
"mark": {"type": "line", "color": "#5cf25c", "strokeWidth": 1.6},
"encoding": {}
},
{
"data": {"name": "arrows"},
"mark": {"type": "rule", "color": "#333333", "strokeWidth": 1},
"encoding": {"x2": {"field": "x2"}, "y2": {"field": "y2"}}
},
{
"data": {"name": "notes"},
"mark": {"type": "text", "font": "Liberation Sans", "fontSize": 17, "fontWeight": "bold", "color": "#111111", "align": "center", "baseline": "middle"},
"encoding": {"text": {"field": "t"}}
},
{
"data": {"name": "buttons"},
"mark": {"type": "rect", "cornerRadius": 5, "stroke": "#222222", "strokeWidth": 1},
"encoding": {
"x2": {"field": "x2"},
"y2": {"field": "y2"},
"fill": {"condition": {"test": "datum.b === 'Select'", "value": "#6aaee8"}, "value": "#ffffff"}
}
},
{
"data": {"name": "buttonlabels"},
"mark": {"type": "text", "font": "DejaVu Sans", "fontSize": 12, "fontWeight": "bold", "color": "#111111", "align": "center", "baseline": "middle"},
"encoding": {"text": {"field": "b"}}
}
]
}
